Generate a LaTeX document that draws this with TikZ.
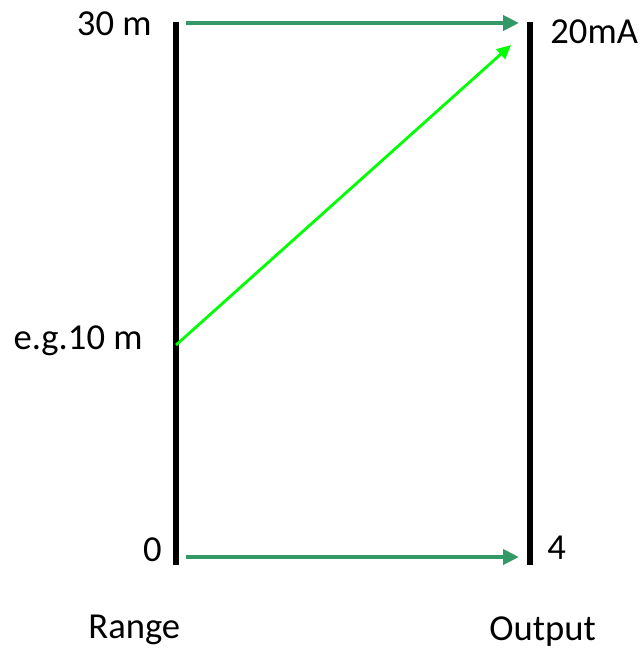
\documentclass[tikz,border=0pt]{standalone}
\usepackage{fontspec}
\setmainfont{Carlito}
\usetikzlibrary{arrows.meta}
\definecolor{mapgreen}{RGB}{51,153,102}
\definecolor{brightgreen}{RGB}{0,255,0}
\begin{document}
\begin{tikzpicture}[x=0.5pt, y=-0.5pt,
  bar/.style={line width=3pt, black},
  maparrow/.style={line width=2.3pt, mapgreen, -{Triangle[length=8pt,width=7.5pt]}},
  samplearrow/.style={line width=1.4pt, brightgreen, -{Triangle[length=7pt,width=6.5pt]}},
  lbl/.style={font=\fontsize{18.3}{21}\selectfont, inner sep=0pt}]

  % Frame
  \useasboundingbox (0,0) rectangle (643,649);

  % Bars
  \coordinate (RangeTop) at (176,22);
  \coordinate (RangeBot) at (176,565);
  \coordinate (OutTop) at (530,22);
  \coordinate (OutBot) at (530,565);
  \draw[bar] (RangeTop) -- (RangeBot);
  \draw[bar] (OutTop) -- (OutBot);

  % Arrow end points
  \coordinate (TopFrom) at (186,23);
  \coordinate (TopTo) at (519,23);
  \coordinate (BotFrom) at (186,557);
  \coordinate (BotTo) at (519,557);
  \coordinate (SampleFrom) at (176,345);
  \coordinate (SampleTo) at (511,45);

  % Mapping arrows
  \draw[maparrow] (TopFrom) -- (TopTo);
  \draw[maparrow] (BotFrom) -- (BotTo);
  \draw[samplearrow] (SampleFrom) -- (SampleTo);

  % Labels
  \node[lbl, anchor=base east] (L30) at (152,35) {30 m};
  \node[lbl, anchor=base west] (L20) at (550,43) {20mA};
  \node[lbl, anchor=base east] (L10) at (143,349) {e.g.10 m};
  \node[lbl, anchor=base east] (L0) at (162,561) {0};
  \node[lbl, anchor=base west] (L4) at (547,559) {4};
  \node[lbl, anchor=base west] (LRange) at (88,638) {Range};
  \node[lbl, anchor=base west] (LOutput) at (489,640) {Output};

\end{tikzpicture}
\end{document}
